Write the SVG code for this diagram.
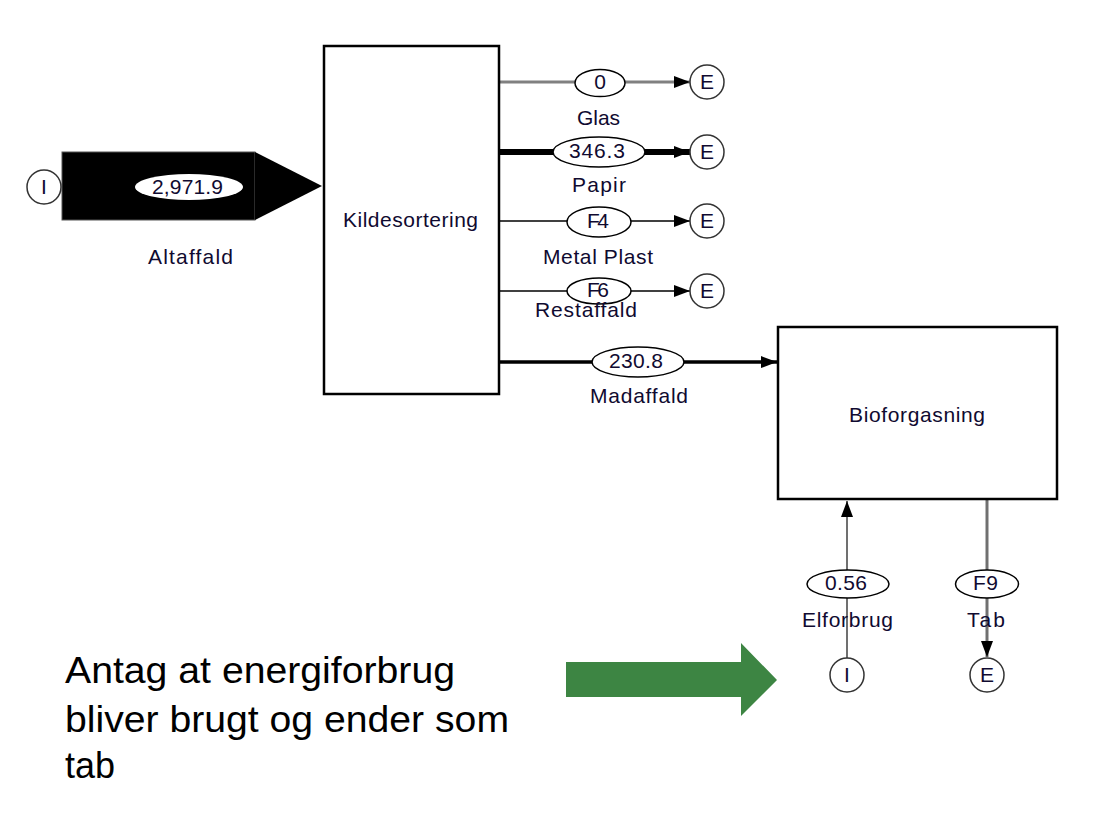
<svg xmlns="http://www.w3.org/2000/svg" width="1102" height="826" viewBox="0 0 1102 826">
<defs>
<style>
.lbl{font-family:"Liberation Sans",Arial,sans-serif;font-size:21px;fill:#100a30}
.big{font-family:"Liberation Sans",Arial,sans-serif;font-size:36px;fill:#000}
.box{fill:#fff;stroke:#000;stroke-width:2.5}
.term{fill:#fff;stroke:#333;stroke-width:1.5}
.val{fill:#fff;stroke:#000;stroke-width:1.5}
.ctr{text-anchor:middle}
</style>
<marker id="ah" viewBox="0 0 16 12" refX="16" refY="6" markerWidth="16" markerHeight="12" markerUnits="userSpaceOnUse" orient="auto">
<path d="M0,0 L16,6 L0,12 Z" fill="#000"/>
</marker>
</defs>
<rect width="1102" height="826" fill="#fff"/>

<g id="connectors">
<line x1="499" y1="82" x2="690" y2="82" stroke="#808080" stroke-width="3" marker-end="url(#ah)"/>
<line x1="499" y1="152" x2="690" y2="152" stroke="#000" stroke-width="6" marker-end="url(#ah)"/>
<line x1="499" y1="221" x2="690" y2="221" stroke="#000" stroke-width="1.5" marker-end="url(#ah)"/>
<line x1="499" y1="291" x2="690" y2="291" stroke="#000" stroke-width="1.5" marker-end="url(#ah)"/>
<line x1="499" y1="362" x2="777" y2="362" stroke="#000" stroke-width="3.5" marker-end="url(#ah)"/>
<line x1="847" y1="658" x2="847" y2="501" stroke="#707070" stroke-width="2" marker-end="url(#ah)"/>
<line x1="987" y1="500" x2="987" y2="657" stroke="#707070" stroke-width="3" marker-end="url(#ah)"/>
</g>

<g id="flow-altaffald">
<rect x="62" y="152" width="193" height="68" fill="#000" stroke="#555" stroke-width="1"/>
<polygon points="255,152 322,186 255,220" fill="#000"/>
<ellipse cx="189" cy="187" rx="54" ry="13" fill="#fff"/>
<text class="lbl" x="152" y="194" textLength="71" lengthAdjust="spacing">2,971.9</text>
<text class="lbl" x="148" y="264" textLength="85" lengthAdjust="spacing">Altaffald</text>
</g>

<g id="input-altaffald">
<circle class="term" cx="44" cy="187" r="17"/>
<text class="lbl ctr" x="44" y="194">I</text>
</g>

<g id="kildesortering">
<rect class="box" x="324" y="46" width="175" height="348"/>
<text class="lbl" x="343" y="227" textLength="135" lengthAdjust="spacing">Kildesortering</text>
</g>

<g id="bioforgasning">
<rect class="box" x="778" y="327" width="279" height="172"/>
<text class="lbl" x="849" y="422" textLength="136" lengthAdjust="spacing">Bioforgasning</text>
</g>

<g id="flow-glas">
<ellipse class="val" cx="600" cy="83" rx="25" ry="13.5"/>
<text class="lbl ctr" x="600" y="89">0</text>
<text class="lbl" x="577" y="125" textLength="43" lengthAdjust="spacing">Glas</text>
</g>
<g id="export-glas">
<circle class="term" cx="707" cy="82" r="17"/>
<text class="lbl ctr" x="707" y="89">E</text>
</g>

<g id="flow-papir">
<ellipse class="val" cx="599" cy="152" rx="46" ry="15"/>
<text class="lbl" x="569" y="158" textLength="56" lengthAdjust="spacing">346.3</text>
<text class="lbl" x="572" y="192" textLength="54" lengthAdjust="spacing">Papir</text>
</g>
<g id="export-papir">
<circle class="term" cx="707" cy="152" r="17"/>
<text class="lbl ctr" x="707" y="159">E</text>
</g>

<g id="flow-metalplast">
<ellipse class="val" cx="599" cy="222" rx="32" ry="15"/>
<text class="lbl" x="587" y="228" textLength="22" lengthAdjust="spacing">F4</text>
<text class="lbl" x="543" y="264" textLength="110" lengthAdjust="spacing">Metal Plast</text>
</g>
<g id="export-metalplast">
<circle class="term" cx="707" cy="221" r="17"/>
<text class="lbl ctr" x="707" y="228">E</text>
</g>

<g id="flow-restaffald">
<ellipse class="val" cx="599" cy="291" rx="32" ry="13"/>
<text class="lbl" x="587" y="297" textLength="22" lengthAdjust="spacing">F6</text>
<text class="lbl" x="535" y="317" textLength="102" lengthAdjust="spacing">Restaffald</text>
</g>
<g id="export-restaffald">
<circle class="term" cx="707" cy="291" r="17"/>
<text class="lbl ctr" x="707" y="298">E</text>
</g>

<g id="flow-madaffald">
<ellipse class="val" cx="638" cy="362" rx="46" ry="15"/>
<text class="lbl" x="609" y="368" textLength="54" lengthAdjust="spacing">230.8</text>
<text class="lbl" x="590" y="403" textLength="98" lengthAdjust="spacing">Madaffald</text>
</g>

<g id="flow-elforbrug">
<ellipse class="val" cx="848" cy="584" rx="41" ry="14"/>
<text class="lbl" x="825" y="590" textLength="42" lengthAdjust="spacing">0.56</text>
<text class="lbl" x="802" y="627" textLength="91" lengthAdjust="spacing">Elforbrug</text>
</g>
<g id="input-elforbrug">
<circle class="term" cx="847" cy="675" r="17"/>
<text class="lbl ctr" x="847" y="682">I</text>
</g>

<g id="flow-tab">
<ellipse class="val" cx="987" cy="584" rx="31.5" ry="14"/>
<text class="lbl" x="973" y="590" textLength="25" lengthAdjust="spacing">F9</text>
<text class="lbl" x="967" y="627" textLength="38" lengthAdjust="spacing">Tab</text>
</g>
<g id="export-tab">
<circle class="term" cx="987" cy="675" r="17"/>
<text class="lbl ctr" x="987" y="682">E</text>
</g>

<g id="note">
<text class="big" x="65" y="683" textLength="390" lengthAdjust="spacingAndGlyphs">Antag at energiforbrug</text>
<text class="big" x="65" y="732" textLength="444" lengthAdjust="spacingAndGlyphs">bliver brugt og ender som</text>
<text class="big" x="65" y="778" textLength="50" lengthAdjust="spacingAndGlyphs">tab</text>
</g>

<g id="green-arrow">
<polygon points="566,662 741,662 741,643 777,680 741,716 741,697 566,697" fill="#3d8543"/>
</g>
</svg>
